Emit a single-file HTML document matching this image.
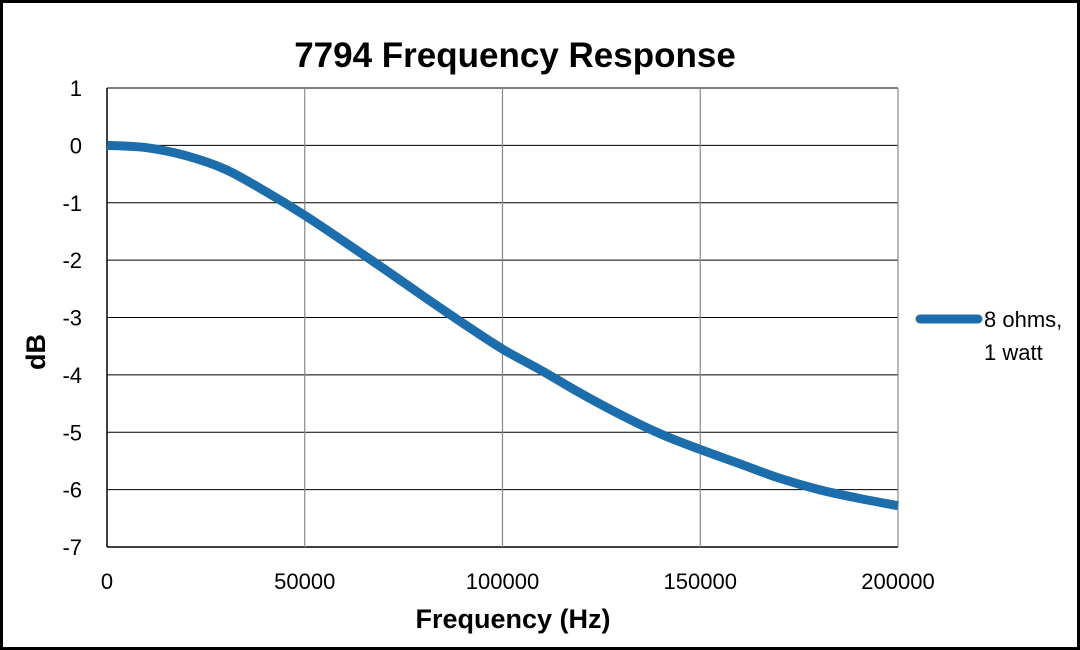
<!DOCTYPE html>
<html><head><meta charset="utf-8">
<style>
html,body{margin:0;padding:0;background:#fff;}
svg{display:block;font-family:"Liberation Sans",sans-serif;}
</style></head>
<body>
<svg id="chart" width="1080" height="650" viewBox="0 0 1080 650">
<rect x="1.5" y="1.5" width="1077" height="647" fill="#fff" stroke="#000" stroke-width="3"/>
<text x="515" y="67" text-anchor="middle" font-size="35" font-weight="bold" fill="#000">7794 Frequency Response</text>
<g id="grid"></g>
<g id="yticks"></g>
<g id="xticks"></g>
<text x="0" y="0" transform="translate(45,352) rotate(-90)" text-anchor="middle" font-size="27" font-weight="bold">dB</text>
<text x="513" y="628" text-anchor="middle" font-size="27" font-weight="bold">Frequency (Hz)</text>
<path id="series" fill="none" stroke="#1c6dac" stroke-width="9" stroke-linecap="butt"/>
<g>
<line x1="920" y1="319" x2="978" y2="319" stroke="#1c6dac" stroke-width="9" stroke-linecap="round"/>
<text x="984" y="327" font-size="22">8 ohms,</text>
<text x="984" y="360" font-size="22">1 watt</text>
</g>
</svg>
<script>
const freqs=[0,10000,20000,30000,40000,50000,60000,70000,80000,90000,100000,110000,120000,130000,140000,150000,160000,170000,180000,190000,200000];
const dbValues=[0,-0.04,-0.18,-0.42,-0.8,-1.22,-1.68,-2.15,-2.63,-3.1,-3.55,-3.93,-4.33,-4.7,-5.03,-5.3,-5.55,-5.8,-6.0,-6.15,-6.28];
const yTicks=[1,0,-1,-2,-3,-4,-5,-6,-7];
const xTicks=[0,50000,100000,150000,200000];
const X0=107,X1=898,Y0=88,Y1=547;
const xs=v=>X0+(v-0)/(200000)*(X1-X0);
const ys=v=>Y0+(1-v)/8*(Y1-Y0);
const NS="http://www.w3.org/2000/svg";
const grid=document.getElementById('grid'),yt=document.getElementById('yticks'),xt=document.getElementById('xticks');
yTicks.forEach(t=>{
 const l=document.createElementNS(NS,'line');
 l.setAttribute('x1',X0);l.setAttribute('x2',X1);l.setAttribute('y1',ys(t));l.setAttribute('y2',ys(t));
 l.setAttribute('stroke','#000');l.setAttribute('stroke-width',t===-7?1.5:1);
 
 
 grid.appendChild(l);
 const tx=document.createElementNS(NS,'text');
 tx.setAttribute('x',82);tx.setAttribute('y',ys(t)+8);tx.setAttribute('text-anchor','end');tx.setAttribute('font-size','22');
 tx.textContent=t;
 
 
 yt.appendChild(tx);
});
xTicks.forEach(t=>{
 const l=document.createElementNS(NS,'line');
 l.setAttribute('x1',xs(t));l.setAttribute('x2',xs(t));l.setAttribute('y1',Y0);l.setAttribute('y2',Y1);
 l.setAttribute('stroke',t===0?'#000':'#888');l.setAttribute('stroke-width',t===0?1.5:1.2);
 
 
 grid.appendChild(l);
 const tx=document.createElementNS(NS,'text');
 tx.setAttribute('x',xs(t));tx.setAttribute('y',589);tx.setAttribute('text-anchor','middle');tx.setAttribute('font-size','22');
 tx.textContent=t;
 
 
 xt.appendChild(tx);
});
const pts=freqs.map((f,i)=>[xs(f),ys(dbValues[i])]);
let d='M'+pts[0][0]+','+pts[0][1];
for(let i=0;i<pts.length-1;i++){
 const p0=pts[Math.max(0,i-1)],p1=pts[i],p2=pts[i+1],p3=pts[Math.min(pts.length-1,i+2)];
 const c1=[p1[0]+(p2[0]-p0[0])/6,p1[1]+(p2[1]-p0[1])/6];
 const c2=[p2[0]-(p3[0]-p1[0])/6,p2[1]-(p3[1]-p1[1])/6];
 d+=' C'+c1[0]+','+c1[1]+' '+c2[0]+','+c2[1]+' '+p2[0]+','+p2[1];
}
document.getElementById('series').setAttribute('d',d);
</script>
</body></html>
